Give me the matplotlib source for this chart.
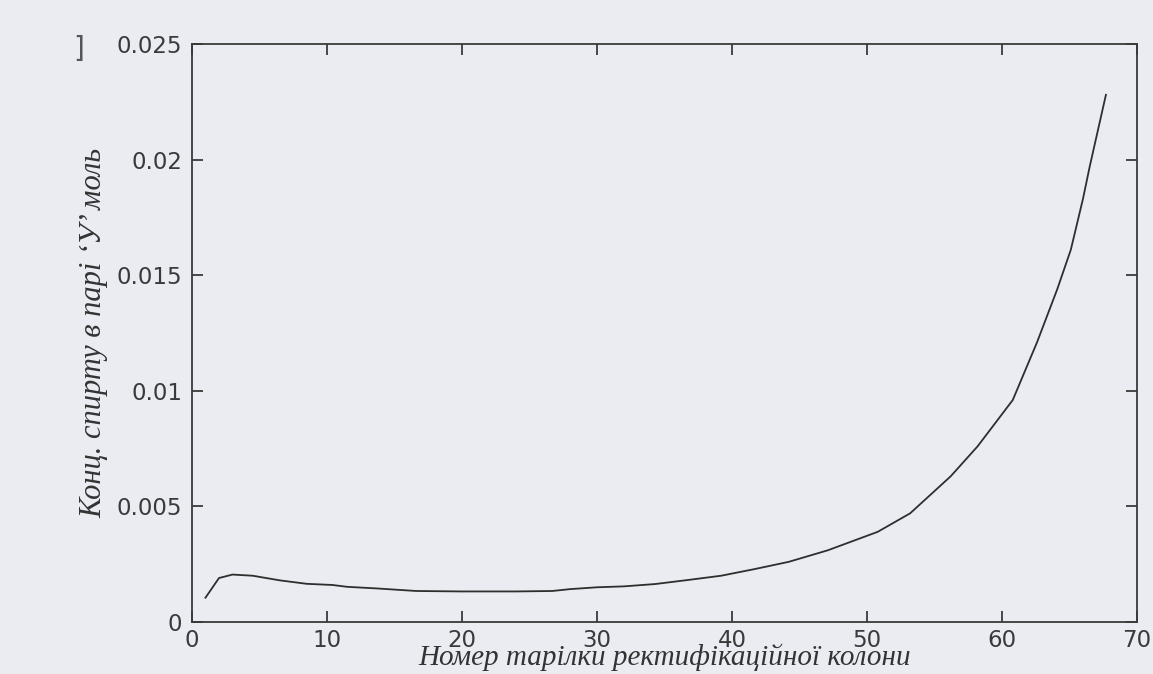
import numpy as np
import matplotlib
matplotlib.use("Agg")
import matplotlib.pyplot as plt

# Plate number vs vapour alcohol concentration
plate = [1, 2, 3, 4.5, 6.5, 8.5, 10.4, 11.5, 13.7, 16.6, 20, 24, 26.7, 28,
         30, 32, 34.3, 36.8, 39.2, 41.7, 44.2, 47.1, 50.8, 53.2, 54.7, 56.2,
         58.2, 60.8, 62.6, 64.1, 65.1, 66.0, 66.5, 67.7]
conc = [0.00105, 0.0019, 0.00205, 0.0020, 0.0018, 0.00165, 0.0016, 0.00152,
        0.00145, 0.00134, 0.00132, 0.00132, 0.00134, 0.00142, 0.0015, 0.00154,
        0.00164, 0.00182, 0.0020, 0.00229, 0.0026, 0.0031, 0.0039, 0.0047,
        0.0055, 0.0063, 0.0076, 0.0096, 0.0121, 0.0144, 0.0161, 0.0183,
        0.0197, 0.0228]

x_ticks = [0, 10, 20, 30, 40, 50, 60, 70]
y_ticks = [0, 0.005, 0.01, 0.015, 0.02, 0.025]
y_tick_labels = ["0", "0.005", "0.01", "0.015", "0.02", "0.025"]

bg = "#eaecf2"
ink = "#3a3a3a"

fig = plt.figure(figsize=(11.53, 6.74), dpi=100, facecolor=bg)
ax = fig.add_axes([0.1665, 0.0772, 0.8196, 0.8576])
ax.set_facecolor(bg)

ax.plot(plate, conc, color="#2e2e2e", lw=1.3)

ax.set_xlim(0, 70)
ax.set_ylim(0, 0.025)
ax.set_xticks(x_ticks)
ax.set_yticks(y_ticks)
ax.set_yticklabels(y_tick_labels)

for s in ax.spines.values():
    s.set_color(ink)
    s.set_linewidth(1.3)

ax.tick_params(direction="in", length=8, width=1.3, color=ink,
               top=True, right=True, labelsize=16.5, labelcolor=ink, pad=7)
ax.tick_params(axis="x", pad=5)

ax.set_xlabel("Номер тарілки ректифікаційної колони", family="Liberation Serif",
              style="italic", fontsize=21, color="#333333", labelpad=-6)
ax.set_ylabel("Конц. спирту в парі ‘У’ моль", family="Liberation Serif",
              style="italic", fontsize=22, color="#333333", labelpad=6)

# stray bracket visible at the top left of the scan
fig.text(0.068, 0.928, "]", fontsize=20, color="#555555", ha="center", va="center")

fig.savefig("out.png", dpi=100, facecolor=bg)
